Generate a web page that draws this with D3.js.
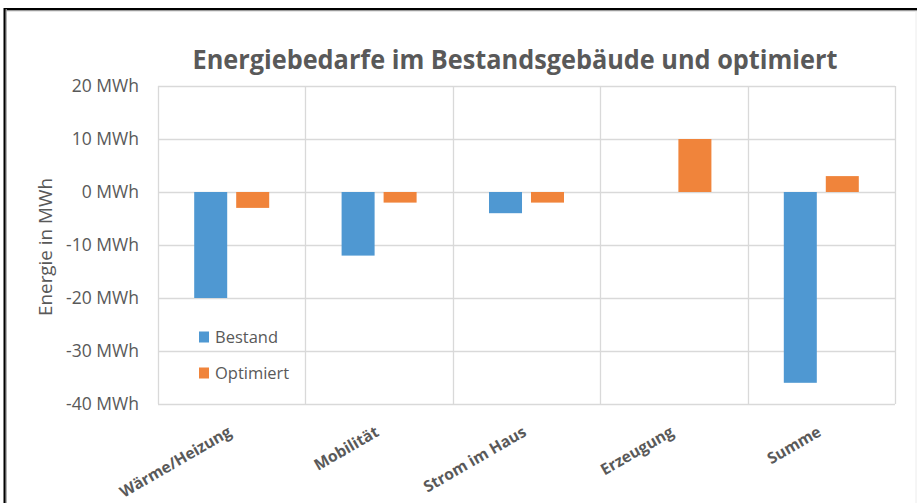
<!DOCTYPE html>
<html>
<head>
<meta charset="utf-8">
<script src="https://cdn.jsdelivr.net/npm/d3@7"></script>
<style>
  html, body { margin: 0; padding: 0; background: #fff; }
  svg { display: block; }
  text { font-family: "Open Sans", "Noto Sans", sans-serif; fill: #595959; }
</style>
</head>
<body>
<svg id="chart" width="917" height="503"></svg>
<script>
const title = "Energiebedarfe im Bestandsgebäude und optimiert";
const yAxisTitle = "Energie in MWh";
const categories = ["Wärme/Heizung", "Mobilität", "Strom im Haus", "Erzeugung", "Summe"];
const seriesNames = ["Bestand", "Optimiert"];
const bestand = [-20, -12, -4, 0, -36];
const optimiert = [-3, -2, -2, 10, 3];
const yTicks = [20, 10, 0, -10, -20, -30, -40];
const colors = ["#4F98D2", "#F0843B"];

const svg = d3.select("#chart");
const W = 917, H = 503;
const plot = { left: 158, right: 895, top: 86, bottom: 404 };

// frame
svg.append("rect").attr("x", 0).attr("y", 0).attr("width", W).attr("height", H).attr("fill", "#fff");
svg.append("line").attr("x1", 4).attr("x2", W).attr("y1", 10.5).attr("y2", 10.5).attr("stroke", "#9a9a9a").attr("stroke-width", 1.5);
svg.append("line").attr("x1", 4).attr("x2", W).attr("y1", 9).attr("y2", 9).attr("stroke", "#000").attr("stroke-width", 2);
svg.append("line").attr("x1", 6).attr("x2", 6).attr("y1", 9).attr("y2", H).attr("stroke", "#9a9a9a").attr("stroke-width", 1.5);
svg.append("line").attr("x1", 4.5).attr("x2", 4.5).attr("y1", 8).attr("y2", H).attr("stroke", "#000").attr("stroke-width", 2);
svg.append("line").attr("x1", 916).attr("x2", 916).attr("y1", 11).attr("y2", H).attr("stroke", "#ececec").attr("stroke-width", 1);

const x0 = d3.scaleBand().domain(categories).range([plot.left, plot.right]).padding(0);
const x1 = d3.scaleBand().domain(seriesNames).range([0, x0.bandwidth()]).paddingInner(0.214).paddingOuter(0.862);
const y = d3.scaleLinear().domain([-40, 20]).range([plot.bottom, plot.top]);

// grid horizontal
svg.append("g").selectAll("line").data(yTicks).join("line")
  .attr("x1", plot.left).attr("x2", plot.right)
  .attr("y1", d => Math.round(y(d)) + 0.5).attr("y2", d => Math.round(y(d)) + 0.5)
  .attr("stroke", "#D9D9D9").attr("stroke-width", 1.3);
// grid vertical (category boundaries)
const bounds = categories.map(c => x0(c)).concat([plot.right]);
svg.append("g").selectAll("line").data(bounds).join("line")
  .attr("x1", d => Math.round(d) + 0.5).attr("x2", d => Math.round(d) + 0.5)
  .attr("y1", plot.top).attr("y2", plot.bottom)
  .attr("stroke", "#D9D9D9").attr("stroke-width", 1.3);

// bars
const seriesData = [bestand, optimiert];
seriesNames.forEach((s, si) => {
  svg.append("g").selectAll("rect").data(categories.map((c, i) => ({ c, v: seriesData[si][i] })))
    .join("rect")
    .attr("x", d => x0(d.c) + x1(s))
    .attr("width", x1.bandwidth())
    .attr("y", d => y(Math.max(0, d.v)))
    .attr("height", d => Math.abs(y(d.v) - y(0)))
    .attr("fill", colors[si]);
});

function fit(sel, target) {
  const n = sel.node();
  const fs = parseFloat(sel.attr("font-size"));
  const w = n.getComputedTextLength();
  sel.attr("font-size", (fs * target / w).toFixed(2));
}

// title (narrowed to mimic the condensed original face)
svg.append("text").attr("x", 515).attr("y", 69).attr("text-anchor", "middle")
  .attr("font-size", 27).attr("font-weight", 700)
  .attr("textLength", 645).attr("lengthAdjust", "spacingAndGlyphs").text(title);

// y tick labels
const yAxis = d3.axisLeft(y).tickValues(yTicks).tickFormat(d => d + " MWh").tickSize(0).tickPadding(19);
const ya = svg.append("g").attr("transform", `translate(${plot.left},0)`).call(yAxis);
ya.select(".domain").remove();
const probe = svg.append("text").attr("font-size", 17).text("-40 MWh");
fit(probe, 73);
const tickFs = probe.attr("font-size");
probe.remove();
ya.selectAll("text").attr("font-size", tickFs).attr("font-family", "Open Sans, Noto Sans, sans-serif").attr("fill", "#595959");

// y axis title
const yt = svg.append("text").attr("transform", "translate(52,247) rotate(-90)").attr("text-anchor", "middle")
  .attr("font-size", 18).text(yAxisTitle);
fit(yt, 138);

// x labels
const xProbe = svg.append("text").attr("font-size", 16).attr("font-weight", 700).text(categories[0]);
fit(xProbe, 126);
const xFs = xProbe.attr("font-size");
xProbe.remove();
svg.append("g").selectAll("text").data(categories).join("text")
  .attr("transform", d => `translate(${x0(d) + x0.bandwidth() / 2 + 1},435) rotate(-30)`)
  .attr("text-anchor", "end").attr("font-size", xFs).attr("font-weight", 700).text(d => d);

// legend
const legendY = [337, 373];
const lg = svg.append("g");
seriesNames.forEach((s, i) => {
  lg.append("rect").attr("x", 199).attr("y", legendY[i] - 5.5).attr("width", 10).attr("height", 11).attr("fill", colors[i]);
  const lt = lg.append("text").attr("x", 215).attr("y", legendY[i]).attr("dy", "0.35em").attr("font-size", 16).text(s);
  if (i === 0) fit(lt, 63);
});
const lfs = lg.select("text").attr("font-size");
lg.selectAll("text").attr("font-size", lfs);
</script>
</body>
</html>
